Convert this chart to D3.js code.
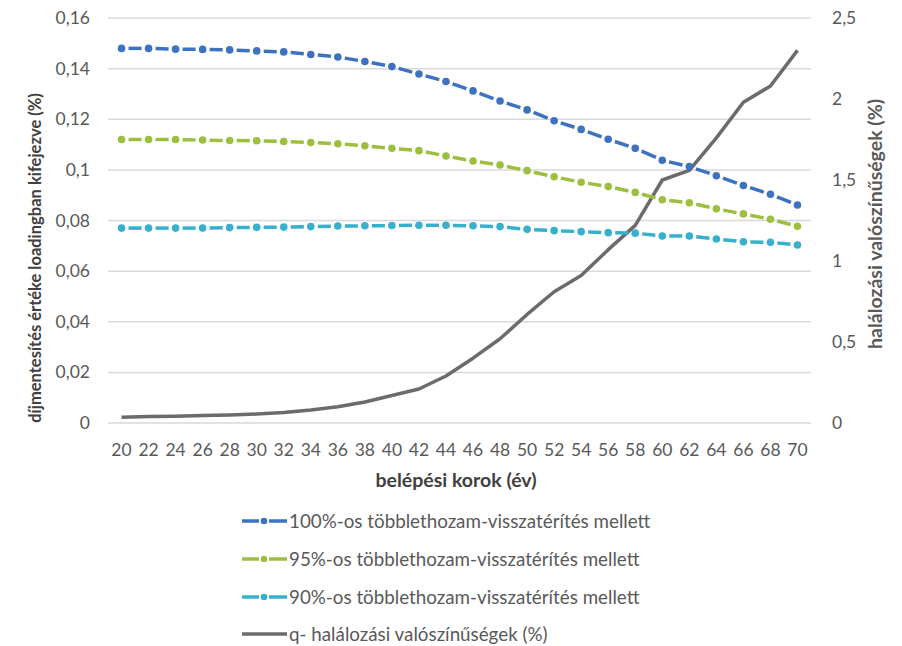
<!DOCTYPE html>
<html><head><meta charset="utf-8">
<script src="https://cdn.jsdelivr.net/npm/d3@7"></script>
<style>body{margin:0;background:#fff}svg{display:block}text{font-family:Lato,"Open Sans",sans-serif}</style>
</head><body><svg id="c" width="902" height="646"></svg>
<script>
const ages = [20,22,24,26,28,30,32,34,36,38,40,42,44,46,48,50,52,54,56,58,60,62,64,66,68,70];
const s100 = [0.1480,0.1480,0.1477,0.1476,0.1474,0.1470,0.1466,0.1456,0.1446,0.1428,0.1408,0.1379,0.1349,0.1312,0.1272,0.1237,0.1194,0.1160,0.1121,0.1085,0.1038,0.1013,0.0977,0.0938,0.0904,0.0861];
const s95  = [0.1120,0.1120,0.1120,0.1118,0.1116,0.1115,0.1112,0.1108,0.1103,0.1095,0.1085,0.1076,0.1055,0.1035,0.1019,0.0997,0.0973,0.0951,0.0934,0.0911,0.0882,0.0870,0.0846,0.0826,0.0805,0.0777];
const s90  = [0.0770,0.0770,0.0770,0.0770,0.0772,0.0773,0.0774,0.0776,0.0778,0.0779,0.0780,0.0781,0.0781,0.0779,0.0776,0.0765,0.0760,0.0756,0.0752,0.0750,0.0739,0.0739,0.0727,0.0716,0.0714,0.0703];
const qMort = [0.035,0.040,0.042,0.046,0.050,0.055,0.065,0.080,0.100,0.130,0.170,0.210,0.290,0.400,0.520,0.670,0.810,0.910,1.070,1.220,1.500,1.560,1.760,1.980,2.080,2.300];
const leftTicks = [0,0.02,0.04,0.06,0.08,0.1,0.12,0.14,0.16];
const rightTicks = [0,0.5,1,1.5,2,2.5];
const seriesNames = ["100%-os többlethozam-visszatérítés mellett","95%-os többlethozam-visszatérítés mellett","90%-os többlethozam-visszatérítés mellett","q- halálozási valószínűségek (%)"];
const colors = ["#3D72C0","#9CBF3F","#36B0CE","#6B6B6B"];
const leftTitle = "díjmentesítés értéke loadingban kifejezve (%)";
const rightTitle = "halálozási valószínűségek (%)";
const xTitle = "belépési korok (év)";

const svg = d3.select("#c");
const L=108, R=811, T=18, B=423;
const x = d3.scaleBand().domain(ages).range([L,R]);
const xc = a => x(a) + x.bandwidth()/2;
const yL = d3.scaleLinear().domain([0,0.16]).range([B,T]);
const yR = d3.scaleLinear().domain([0,2.5]).range([B,T]);
const fmt = d => String(d).replace(".",",");

// gridlines
svg.append("g").selectAll("line").data(leftTicks).join("line")
  .attr("x1",L).attr("x2",R).attr("y1",d=>yL(d)).attr("y2",d=>yL(d))
  .attr("stroke","#D9D9D9").attr("stroke-width",1.5);

// axes via d3 axis
const axL = svg.append("g").attr("transform",`translate(${L},0)`)
  .call(d3.axisLeft(yL).tickValues(leftTicks).tickFormat(fmt).tickSize(0).tickPadding(18));
const axR = svg.append("g").attr("transform",`translate(${R},0)`)
  .call(d3.axisRight(yR).tickValues(rightTicks).tickFormat(fmt).tickSize(0).tickPadding(21));
const axB = svg.append("g").attr("transform",`translate(0,${B})`)
  .call(d3.axisBottom(x).tickSize(0).tickPadding(21));
[axL,axR,axB].forEach(a=>{a.select(".domain").remove();
  a.selectAll("text").attr("font-size",17.5).attr("fill","#595959").attr("font-family","Lato");});

// titles
svg.append("text").attr("transform",`translate(41,258) rotate(-90)`).attr("text-anchor","middle")
  .attr("font-size",16.5).attr("font-weight","bold").attr("fill","#404040").text(leftTitle);
svg.append("text").attr("transform",`translate(882,224) rotate(-90)`).attr("text-anchor","middle")
  .attr("font-size",19.5).attr("font-weight","bold").attr("fill","#595959").text(rightTitle);
svg.append("text").attr("x",456).attr("y",487).attr("text-anchor","middle")
  .attr("font-size",19.5).attr("font-weight","bold").attr("fill","#404040").text(xTitle);

// mortality line (right axis)
const lineR = d3.line().x((d,i)=>xc(ages[i])).y(d=>yR(d));
svg.append("path").datum(qMort).attr("d",lineR).attr("fill","none")
  .attr("stroke",colors[3]).attr("stroke-width",3.5).attr("stroke-linejoin","round");

// dashed dotted series
function dashSeries(vals,color){
  const g = svg.append("g");
  const pts = vals.map((v,i)=>[xc(ages[i]), yL(v)]);
  const gap = 7;
  const segs = d3.pairs(pts).map(([a,b])=>{
    const dx=b[0]-a[0], dy=b[1]-a[1], len=Math.hypot(dx,dy);
    return [a[0]+dx/len*gap, a[1]+dy/len*gap, b[0]-dx/len*gap, b[1]-dy/len*gap];
  });
  g.selectAll("line").data(segs).join("line")
    .attr("x1",d=>d[0]).attr("y1",d=>d[1]).attr("x2",d=>d[2]).attr("y2",d=>d[3])
    .attr("stroke",color).attr("stroke-width",3.5);
  g.selectAll("circle").data(pts).join("circle")
    .attr("cx",d=>d[0]).attr("cy",d=>d[1]).attr("r",3.8).attr("fill",color);
}
dashSeries(s100,colors[0]);
dashSeries(s95,colors[1]);
dashSeries(s90,colors[2]);

// legend
const legY = [521,559,597,634];
const lg = svg.append("g");
seriesNames.forEach((name,i)=>{
  const y = legY[i];
  if(i<3){
    lg.append("line").attr("x1",242).attr("x2",259).attr("y1",y).attr("y2",y).attr("stroke",colors[i]).attr("stroke-width",3.5);
    lg.append("line").attr("x1",269).attr("x2",287).attr("y1",y).attr("y2",y).attr("stroke",colors[i]).attr("stroke-width",3.5);
    lg.append("circle").attr("cx",264).attr("cy",y).attr("r",3.3).attr("fill",colors[i]);
  } else {
    lg.append("line").attr("x1",242).attr("x2",287).attr("y1",y).attr("y2",y).attr("stroke",colors[i]).attr("stroke-width",3.5);
  }
  lg.append("text").attr("x",289).attr("y",y).attr("dy","0.35em").attr("font-size",18.8)
    .attr("fill","#595959").text(name);
});
</script></body></html>
